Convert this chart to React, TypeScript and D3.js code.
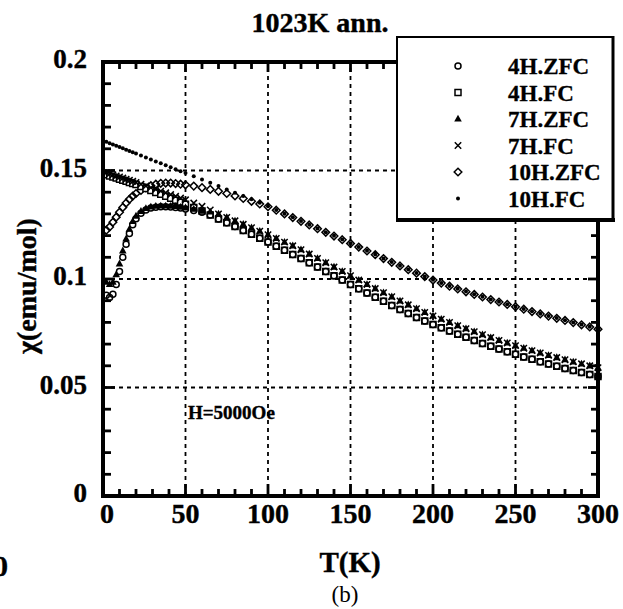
import React from 'react';
import * as d3 from 'd3';

// Temperature (K)
const temps = [2,4,6,8,10,12,14,16,18,20,23,26,29,32,35,38,41,44,47,50,55,60,65,70,75,80,85,90,95,100,105,110,115,120,125,130,135,140,145,150,155,160,165,170,175,180,185,190,195,200,205,210,215,220,225,230,235,240,245,250,255,260,265,270,275,280,285,290,295,300];

// chi (emu/mol)
const chi10HFC = [0.1632,0.1626,0.1620,0.1614,0.1608,0.1602,0.1596,0.1590,0.1584,0.1578,0.1569,0.1560,0.1551,0.1542,0.1533,0.1524,0.1515,0.1506,0.1497,0.1488,0.1473,0.1458,0.1443,0.1428,0.1413,0.1398,0.1383,0.1367,0.1351,0.1335,0.1318,0.1301,0.1284,0.1267,0.1250,0.1233,0.1216,0.1199,0.1182,0.1165,0.1148,0.1130,0.1113,0.1095,0.1078,0.1061,0.1044,0.1028,0.1012,0.0996,0.0982,0.0968,0.0955,0.0942,0.0930,0.0918,0.0906,0.0895,0.0884,0.0873,0.0862,0.0851,0.0840,0.0830,0.0820,0.0810,0.0800,0.0790,0.0780,0.0770];

const chi10HZFC = [0.1225,0.1240,0.1262,0.1285,0.1308,0.1330,0.1350,0.1367,0.1382,0.1394,0.1408,0.1420,0.1430,0.1437,0.1441,0.1442,0.1442,0.1440,0.1437,0.1434,0.1428,0.1421,0.1413,0.1404,0.1394,0.1383,0.1371,0.1358,0.1346,0.1333,0.1317,0.1300,0.1283,0.1266,0.1249,0.1232,0.1215,0.1198,0.1181,0.1164,0.1147,0.1129,0.1112,0.1094,0.1077,0.1060,0.1043,0.1027,0.1011,0.0995,0.0981,0.0967,0.0954,0.0941,0.0929,0.0917,0.0905,0.0894,0.0883,0.0872,0.0861,0.0850,0.0839,0.0829,0.0819,0.0809,0.0799,0.0789,0.0779,0.0769];

const chi7HFC = [0.1490,0.1485,0.1480,0.1475,0.1470,0.1465,0.1460,0.1455,0.1450,0.1445,0.1437,0.1429,0.1421,0.1413,0.1405,0.1397,0.1389,0.1381,0.1373,0.1365,0.1350,0.1335,0.1318,0.1300,0.1284,0.1268,0.1252,0.1236,0.1220,0.1204,0.1187,0.1170,0.1153,0.1135,0.1115,0.1095,0.1075,0.1055,0.1035,0.1015,0.0995,0.0975,0.0956,0.0937,0.0918,0.0899,0.0881,0.0863,0.0846,0.0830,0.0815,0.0800,0.0785,0.0771,0.0757,0.0743,0.0730,0.0717,0.0705,0.0693,0.0681,0.0670,0.0659,0.0648,0.0638,0.0628,0.0618,0.0609,0.0600,0.0591];

const chi7HZFC = [0.0985,0.0975,0.0985,0.1020,0.1070,0.1130,0.1185,0.1230,0.1265,0.1290,0.1312,0.1325,0.1332,0.1336,0.1337,0.1337,0.1336,0.1334,0.1331,0.1328,0.1322,0.1315,0.1309,0.1300,0.1284,0.1268,0.1252,0.1236,0.1220,0.1204,0.1187,0.1170,0.1153,0.1135,0.1115,0.1095,0.1075,0.1055,0.1035,0.1015,0.0995,0.0975,0.0956,0.0937,0.0918,0.0899,0.0881,0.0863,0.0846,0.0830,0.0815,0.0800,0.0785,0.0771,0.0757,0.0743,0.0730,0.0717,0.0705,0.0693,0.0681,0.0670,0.0659,0.0648,0.0638,0.0628,0.0618,0.0609,0.0600,0.0591];

const chi4HFC = [0.1480,0.1475,0.1470,0.1465,0.1460,0.1455,0.1450,0.1445,0.1440,0.1435,0.1426,0.1417,0.1408,0.1399,0.1390,0.1381,0.1372,0.1363,0.1354,0.1345,0.1329,0.1313,0.1295,0.1276,0.1259,0.1242,0.1224,0.1206,0.1188,0.1170,0.1151,0.1132,0.1113,0.1095,0.1075,0.1055,0.1035,0.1015,0.0995,0.0975,0.0955,0.0935,0.0916,0.0897,0.0878,0.0859,0.0841,0.0823,0.0806,0.0790,0.0775,0.0760,0.0745,0.0731,0.0717,0.0703,0.0690,0.0677,0.0665,0.0653,0.0641,0.0630,0.0619,0.0608,0.0598,0.0588,0.0578,0.0569,0.0560,0.0551];

const chi4HZFC = [0.0925,0.0915,0.0930,0.0975,0.1035,0.1100,0.1160,0.1210,0.1250,0.1278,0.1303,0.1318,0.1327,0.1331,0.1333,0.1333,0.1332,0.1330,0.1327,0.1323,0.1316,0.1308,0.1295,0.1276,0.1259,0.1242,0.1224,0.1206,0.1188,0.1170,0.1151,0.1132,0.1113,0.1095,0.1075,0.1055,0.1035,0.1015,0.0995,0.0975,0.0955,0.0935,0.0916,0.0897,0.0878,0.0859,0.0841,0.0823,0.0806,0.0790,0.0775,0.0760,0.0745,0.0731,0.0717,0.0703,0.0690,0.0677,0.0665,0.0653,0.0641,0.0630,0.0619,0.0608,0.0598,0.0588,0.0578,0.0569,0.0560,0.0551];

const seriesNames = ['4H.ZFC', '4H.FC', '7H.ZFC', '7H.FC', '10H.ZFC', '10H.FC'];
const seriesMarkers = ['circle', 'square', 'triangle', 'times', 'diamond', 'dot'];
const seriesValues = [chi4HZFC, chi4HFC, chi7HZFC, chi7HFC, chi10HZFC, chi10HFC];
const drawOrder = [5, 4, 1, 3, 2, 0];

const xMajor = [0, 50, 100, 150, 200, 250, 300];
const yMajor = [0, 0.05, 0.1, 0.15, 0.2];
const yTickLabels = ['0', '0.05', '0.1', '0.15', '0.2'];

const FONT = "'Liberation Serif', 'Times New Roman', 'DejaVu Serif', serif";

function Marker({ kind, cx, cy }: { kind: string; cx: number; cy: number }) {
  const t = `translate(${cx},${cy})`;
  const sw = 1.5;
  switch (kind) {
    case 'circle':
      return <circle cx={cx} cy={cy} r={3} fill="none" stroke="#000" strokeWidth={sw} />;
    case 'square':
      return <path transform={t} d="M-3,-3h6v6h-6Z" fill="#fff" stroke="#000" strokeWidth={sw} />;
    case 'triangle':
      return <path transform={t} d="M0,-4.2L3.8,2.6L-3.8,2.6Z" fill="#000" />;
    case 'times':
      return <path transform={t} d="M-3.2,-3.2L3.2,3.2M-3.2,3.2L3.2,-3.2" fill="none" stroke="#000" strokeWidth={sw} />;
    case 'diamond':
      return <path transform={t} d="M0,-3.8L3.8,0L0,3.8L-3.8,0Z" fill="none" stroke="#000" strokeWidth={sw} />;
    default:
      return <circle cx={cx} cy={cy} r={2} fill="#000" />;
  }
}

export default function App() {
  const W = 623;
  const H = 609;
  const x = d3.scaleLinear().domain([0, 300]).range([103, 598]);
  const y = d3.scaleLinear().domain([0, 0.2]).range([496, 62]);
  const [x0, x1] = x.range();
  const [yb, yt] = y.range();

  const xMinor = d3.range(0, 301, 10);
  const yMinor = d3.range(0, 21).map((i) => i / 100);

  const legendRows = seriesNames.map((n, i) => ({ n, i }));

  return (
    <svg
      width={W}
      height={H}
      viewBox={`0 0 ${W} ${H}`}
      style={{ position: 'absolute', left: 0, top: 0, background: '#fff' }}
    >
      <rect x={0} y={0} width={W} height={H} fill="#fff" />

      {/* grid */}
      <g stroke="#000" strokeWidth={1.8} strokeDasharray="4 4" fill="none">
        {xMajor.filter((v) => v > 0 && v < 300).map((v) => (
          <line key={'gx' + v} x1={x(v)} x2={x(v)} y1={yb} y2={yt} />
        ))}
        {yMajor.filter((v) => v > 0 && v < 0.2).map((v) => (
          <line key={'gy' + v} x1={x0} x2={x1} y1={y(v)} y2={y(v)} />
        ))}
      </g>

      {/* data */}
      {drawOrder.map((si) => (
        <g key={'s' + si}>
          {temps.map((t, j) => (
            <Marker key={j} kind={seriesMarkers[si]} cx={x(t)} cy={y(seriesValues[si][j])} />
          ))}
        </g>
      ))}

      {/* ticks */}
      <g stroke="#000" strokeWidth={2.8}>
        {xMinor.map((v) => {
          const major = v % 50 === 0;
          return (
            <g key={'tx' + v}>
              <line x1={x(v)} x2={x(v)} y1={yb} y2={yb - (major ? 12 : 7)} />
              <line x1={x(v)} x2={x(v)} y1={yt} y2={yt + (major ? 10 : 7)} />
            </g>
          );
        })}
        {yMinor.map((v, i) => {
          const major = i % 5 === 0;
          return (
            <g key={'ty' + i}>
              <line x1={x0} x2={x0 + (major ? 12 : 8)} y1={y(v)} y2={y(v)} />
              <line x1={x1} x2={x1 - (major ? 10 : 7)} y1={y(v)} y2={y(v)} />
            </g>
          );
        })}
      </g>

      {/* frame */}
      <rect x={x0} y={yt} width={x1 - x0} height={yb - yt} fill="none" stroke="#000" strokeWidth={4} />

      {/* tick labels */}
      <g fontFamily={FONT} fontWeight="bold" fill="#000" stroke="#000" strokeWidth={0.4}>
        {xMajor.map((v) => (
          <text key={'lx' + v} x={x(v) + (v === 0 ? 4 : 0)} y={yb + 27} fontSize={28} textAnchor="middle">
            {v}
          </text>
        ))}
        {yMajor.map((v, i) => (
          <text key={'ly' + i} x={87} y={y(v) + 6} fontSize={27} textAnchor="end">
            {yTickLabels[i]}
          </text>
        ))}
      </g>

      {/* titles */}
      <g fontFamily={FONT} fontWeight="bold" fill="#000" stroke="#000" strokeWidth={0.4}>
        <text x={320} y={32} fontSize={28} textAnchor="middle">
          1023K ann.
        </text>
        <text transform={`translate(36,286) rotate(-90)`} fontSize={28} textAnchor="middle">
          χ(emu/mol)
        </text>
        <text x={350} y={572} fontSize={29} textAnchor="middle">
          T(K)
        </text>
        <text x={-7} y={576} fontSize={30}>
          0
        </text>
        <text x={188} y={419} fontSize={19}>
          H=5000Oe
        </text>
      </g>
      <text x={345} y={602} fontFamily={FONT} fontSize={23} textAnchor="middle">
        (b)
      </text>

      {/* legend */}
      <g>
        <rect x={397} y={37} width={216} height={183} fill="#fff" stroke="#000" strokeWidth={2} />
        <line x1={396} x2={615} y1={220} y2={220} stroke="#000" strokeWidth={4} />
        <line x1={613} x2={613} y1={36} y2={221} stroke="#000" strokeWidth={3} />
        {legendRows.map(({ n, i }) => {
          const cy = 66 + i * 26.5;
          return (
            <g key={'lg' + i}>
              <Marker kind={seriesMarkers[i]} cx={458} cy={cy} />
              <text
                x={508}
                y={cy + 8}
                fontFamily={FONT}
                fontWeight="bold"
                fontSize={23}
                stroke="#000"
                strokeWidth={0.3}
              >
                {n}
              </text>
            </g>
          );
        })}
      </g>
    </svg>
  );
}
